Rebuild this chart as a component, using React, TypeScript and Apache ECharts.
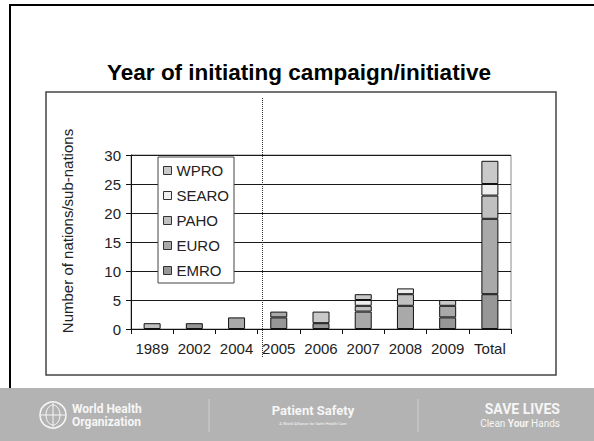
import React, { useEffect, useRef } from "react";
import * as echarts from "echarts";

const categories = ["1989", "2002", "2004", "2005", "2006", "2007", "2008", "2009", "Total"];
const emroValues = [0, 1, 0, 2, 1, 0, 0, 2, 6];
const euroValues = [0, 0, 2, 1, 0, 3, 4, 2, 13];
const pahoValues = [1, 0, 0, 0, 0, 1, 2, 0, 4];
const searoValues = [0, 0, 0, 0, 0, 1, 1, 0, 2];
const wproValues = [0, 0, 0, 0, 2, 1, 0, 1, 4];
const legendOrder = ["WPRO", "SEARO", "PAHO", "EURO", "EMRO"];
const yMin = 0;
const yMax = 30;
const yInterval = 5;
const titleText = "Year of initiating campaign/initiative";
const yAxisTitle = "Number of nations/sub-nations";

const FONT = "'Liberation Sans', Arial, sans-serif";

export default function App() {
  const ref = useRef<HTMLDivElement>(null);
  useEffect(() => {
    if (!ref.current) return;
    const chart = echarts.init(ref.current, undefined, { renderer: "svg" });
    const seriesDefs = [
      { name: "EMRO", data: emroValues, color: "#979797" },
      { name: "EURO", data: euroValues, color: "#a9a9a9" },
      { name: "PAHO", data: pahoValues, color: "#c0c0c0" },
      { name: "SEARO", data: searoValues, color: "#efefef" },
      { name: "WPRO", data: wproValues, color: "#c9c9c9" },
    ];
    const footerText = "#f6f6f6";
    chart.setOption({
      animation: false,
      backgroundColor: "#ffffff",
      textStyle: { fontFamily: FONT },
      grid: {
        left: 131,
        right: 83,
        top: 155,
        bottom: 112,
        show: true,
        borderColor: "#8a8a8a",
        borderWidth: 1,
        backgroundColor: "transparent",
      },
      legend: {
        data: legendOrder,
        orient: "vertical",
        left: 158,
        top: 157,
        itemWidth: 8,
        itemHeight: 8,
        itemGap: 10,
        icon: "rect",
        padding: [6, 5, 5, 5],
        backgroundColor: "#ffffff",
        borderColor: "#444444",
        borderWidth: 1,
        itemStyle: { borderColor: "#333333", borderWidth: 1 },
        textStyle: { fontSize: 15, color: "#222222", fontFamily: FONT },
      },
      xAxis: {
        type: "category",
        data: categories,
        axisLine: { show: true, lineStyle: { color: "#111111", width: 1 } },
        axisTick: { show: true, length: 5, alignWithLabel: false, interval: 0, lineStyle: { color: "#111111" } },
        axisLabel: { fontSize: 15, color: "#222222", margin: 12, interval: 0, hideOverlap: false, fontFamily: FONT },
        splitLine: { show: false },
      },
      yAxis: {
        type: "value",
        min: yMin,
        max: yMax,
        interval: yInterval,
        axisLine: { show: true, lineStyle: { color: "#111111", width: 1 } },
        axisTick: { show: true, length: 5, lineStyle: { color: "#111111" } },
        axisLabel: { fontSize: 15, color: "#222222", margin: 10, fontFamily: FONT },
        splitLine: { show: true, lineStyle: { color: "#1a1a1a", width: 1 } },
      },
      series: seriesDefs.map((s) => ({
        name: s.name,
        type: "bar",
        stack: "total",
        barWidth: 17,
        data: s.data.map((v) => (v === 0 ? "-" : v)),
        itemStyle: { color: s.color, borderColor: "#111111", borderWidth: 1 },
        emphasis: { disabled: true },
      })),
      graphic: [
        { type: "line", shape: { x1: 9, y1: 5, x2: 594, y2: 5 }, style: { stroke: "#000", lineWidth: 2 }, silent: true },
        { type: "line", shape: { x1: 10, y1: 5, x2: 10, y2: 388 }, style: { stroke: "#000", lineWidth: 2 }, silent: true },
        { type: "rect", shape: { x: 46, y: 92, width: 510, height: 283 }, style: { fill: "none", stroke: "#444", lineWidth: 1.5 }, silent: true, z: -1 },
        {
          type: "text",
          x: 299,
          y: 72,
          style: { text: titleText, font: `bold 22.5px ${FONT}`, fill: "#000", align: "center", verticalAlign: "middle" },
          silent: true,
        },
        {
          type: "text",
          x: 67,
          y: 231,
          rotation: Math.PI / 2,
          style: { text: yAxisTitle, font: `15px ${FONT}`, fill: "#222", align: "center", verticalAlign: "middle" },
          silent: true,
        },
        {
          type: "line",
          shape: { x1: 262.5, y1: 98, x2: 262.5, y2: 358 },
          style: { stroke: "#333", lineWidth: 1, lineDash: [1, 1] },
          silent: true,
          z: 10,
        },
        { type: "rect", shape: { x: 0, y: 388, width: 594, height: 53 }, style: { fill: "#b3b3b3" }, silent: true },
        { type: "line", shape: { x1: 209, y1: 399, x2: 209, y2: 432 }, style: { stroke: "#cfcfcf", lineWidth: 1 }, silent: true },
        { type: "line", shape: { x1: 418, y1: 399, x2: 418, y2: 432 }, style: { stroke: "#cfcfcf", lineWidth: 1 }, silent: true },
        { type: "circle", shape: { cx: 53, cy: 415, r: 13 }, style: { fill: "none", stroke: footerText, lineWidth: 1.5 }, silent: true },
        { type: "ellipse", shape: { cx: 53, cy: 415, rx: 7, ry: 10 }, style: { fill: "none", stroke: footerText, lineWidth: 1 }, silent: true },
        { type: "line", shape: { x1: 53, y1: 403, x2: 53, y2: 427 }, style: { stroke: footerText, lineWidth: 1 }, silent: true },
        { type: "line", shape: { x1: 41, y1: 415, x2: 65, y2: 415 }, style: { stroke: footerText, lineWidth: 1 }, silent: true },
        {
          type: "text",
          x: 72,
          y: 409,
          style: { text: "World Health", font: `bold 12px Roboto, ${FONT}`, fill: footerText, align: "left", verticalAlign: "middle" },
          silent: true,
        },
        {
          type: "text",
          x: 72,
          y: 422,
          style: { text: "Organization", font: `bold 12px Roboto, ${FONT}`, fill: footerText, align: "left", verticalAlign: "middle" },
          silent: true,
        },
        {
          type: "text",
          x: 313,
          y: 410,
          style: { text: "Patient Safety", font: `bold 13px Roboto, ${FONT}`, fill: footerText, align: "center", verticalAlign: "middle" },
          silent: true,
        },
        {
          type: "text",
          x: 313,
          y: 423,
          style: { text: "A World Alliance for Safer Health Care", font: `4px Roboto, ${FONT}`, fill: footerText, align: "center", verticalAlign: "middle" },
          silent: true,
        },
        {
          type: "text",
          x: 560,
          y: 409,
          style: { text: "SAVE LIVES", font: `bold 14px Roboto, ${FONT}`, fill: footerText, align: "right", verticalAlign: "middle" },
          silent: true,
        },
        {
          type: "text",
          x: 560,
          y: 423,
          style: {
            text: "{a|Clean }{b|Your}{a| Hands}",
            align: "right",
            verticalAlign: "middle",
            rich: {
              a: { font: `10px Roboto, ${FONT}`, fill: footerText },
              b: { font: `bold 10px Roboto, ${FONT}`, fill: footerText },
            },
          },
          silent: true,
        },
      ],
    });
    return () => chart.dispose();
  }, []);
  return <div ref={ref} style={{ position: "fixed", left: 0, top: 0, width: 594, height: 441 }} />;
}
